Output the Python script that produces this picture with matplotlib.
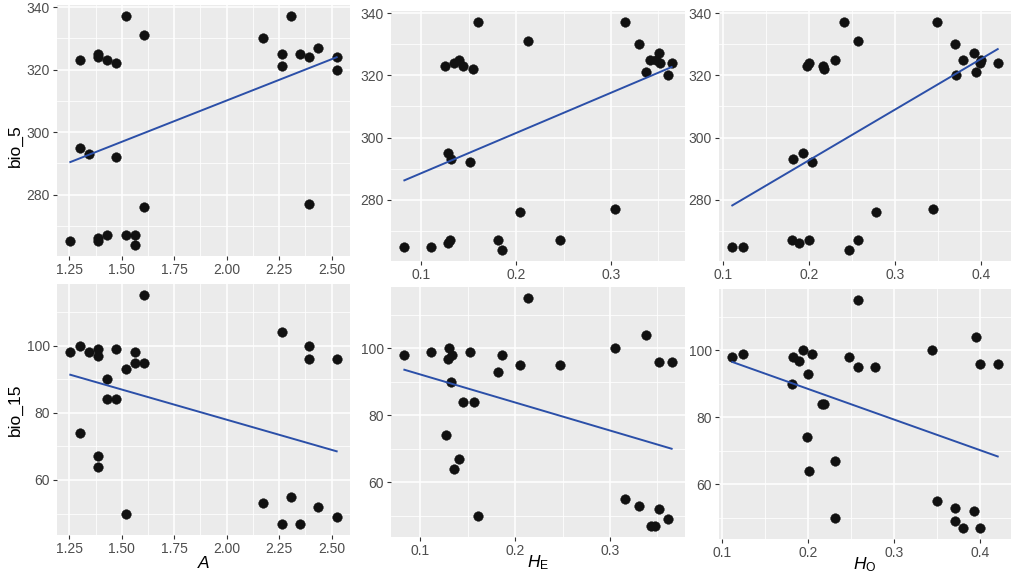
import matplotlib
matplotlib.use("Agg")
import matplotlib.pyplot as plt
import numpy as np
from matplotlib.ticker import FixedLocator, FormatStrFormatter

plt.rcParams["font.family"] = ["Liberation Sans", "DejaVu Sans"]
plt.rcParams["mathtext.fontset"] = "custom"
plt.rcParams["mathtext.rm"] = "Liberation Sans"
plt.rcParams["mathtext.it"] = "Liberation Sans:italic"

# allelic richness, shared by both rows
A = [1.255, 1.301, 1.301, 1.344, 1.387, 1.387, 1.387, 1.387, 1.429, 1.429,
     1.474, 1.474, 1.518, 1.518, 1.561, 1.561, 1.606, 1.606, 2.173, 2.262,
     2.262, 2.304, 2.347, 2.393, 2.393, 2.436, 2.524, 2.524]
bio5_A = [265, 323, 295, 293, 325, 324, 266, 265, 323, 267, 322, 292, 337, 267,
          267, 264, 331, 276, 330, 325, 321, 337, 325, 324, 277, 327, 324, 320]
bio15_A = [98, 100, 74, 98, 99, 97, 67, 64, 90, 84, 99, 84, 93, 50, 98, 95,
           115, 95, 53, 104, 47, 55, 47, 100, 96, 52, 96, 49]

HE_top = [0.082, 0.110, 0.125, 0.128, 0.128, 0.130, 0.131, 0.134, 0.140, 0.144,
          0.151, 0.154, 0.160, 0.181, 0.185, 0.204, 0.212, 0.246, 0.304, 0.315,
          0.330, 0.337, 0.341, 0.347, 0.351, 0.352, 0.360, 0.364]
bio5_HE = [265, 265, 323, 295, 266, 267, 293, 324, 325, 323, 292, 322, 337, 267,
           264, 276, 331, 267, 277, 337, 330, 321, 325, 325, 327, 324, 320, 324]

HE_bottom = [0.083, 0.111, 0.127, 0.129, 0.130, 0.132, 0.133, 0.135, 0.141, 0.145,
             0.152, 0.156, 0.161, 0.182, 0.186, 0.205, 0.213, 0.247, 0.305, 0.316,
             0.331, 0.338, 0.343, 0.347, 0.352, 0.352, 0.361, 0.365]
bio15_HE = [98, 99, 74, 97, 100, 90, 98, 64, 67, 84, 99, 84, 50, 93, 98, 95,
            115, 95, 100, 55, 53, 104, 47, 47, 96, 52, 49, 96]

HO_top = [0.111, 0.124, 0.180, 0.182, 0.189, 0.193, 0.198, 0.200, 0.200, 0.204,
          0.216, 0.218, 0.230, 0.241, 0.247, 0.257, 0.257, 0.278, 0.344, 0.348,
          0.370, 0.371, 0.379, 0.391, 0.394, 0.398, 0.400, 0.419]
bio5_HO = [265, 265, 267, 293, 266, 295, 323, 267, 324, 292, 323, 322, 325, 337,
           264, 267, 331, 276, 277, 337, 330, 320, 325, 327, 321, 324, 325, 324]

HO_bottom = [0.112, 0.125, 0.181, 0.183, 0.190, 0.194, 0.199, 0.200, 0.201, 0.204,
             0.216, 0.218, 0.231, 0.231, 0.248, 0.258, 0.258, 0.278, 0.344, 0.349,
             0.371, 0.371, 0.380, 0.392, 0.395, 0.399, 0.400, 0.420]
bio15_HO = [98, 99, 90, 98, 97, 100, 74, 93, 64, 99, 84, 84, 67, 50, 98, 95,
            115, 95, 100, 55, 53, 49, 47, 52, 104, 96, 47, 96]

W, H = 1021, 582
fig = plt.figure(figsize=(W / 100, H / 100), dpi=100)


def px_axes(left, top, right, bottom):
    return fig.add_axes([left / W, 1 - bottom / H, (right - left) / W, (bottom - top) / H])


def padded(values):
    lo, hi = min(values), max(values)
    pad = 0.05 * (hi - lo)
    return lo - pad, hi + pad


def panel(box, x, y, major_x, minor_x, major_y, minor_y, xfmt):
    ax = px_axes(*box)
    ax.set_facecolor("#EBEBEB")
    for side in ax.spines.values():
        side.set_visible(False)
    ax.set_axisbelow(True)
    ax.xaxis.set_major_locator(FixedLocator(major_x))
    ax.xaxis.set_minor_locator(FixedLocator(minor_x))
    ax.yaxis.set_major_locator(FixedLocator(major_y))
    ax.yaxis.set_minor_locator(FixedLocator(minor_y))
    ax.xaxis.set_major_formatter(FormatStrFormatter(xfmt))
    ax.grid(which="major", color="white", linewidth=1.1)
    ax.grid(which="minor", color="white", linewidth=0.55)
    ax.tick_params(which="major", length=3, width=0.8, color="#333333",
                   labelcolor="#4D4D4D", labelsize=10, pad=2)
    ax.tick_params(which="minor", length=0)

    ax.scatter(x, y, s=48, color="#111111", edgecolors="#111111", linewidths=0.3, zorder=3)
    slope, intercept = np.polyfit(x, y, 1)
    xs = np.array([min(x), max(x)])
    ax.plot(xs, intercept + slope * xs, color="#2B4FA8", linewidth=1.4, zorder=4)

    ax.set_xlim(*padded(x))
    ax.set_ylim(*padded(y))
    return ax


ticks_A = [1.25, 1.50, 1.75, 2.00, 2.25, 2.50]
minor_A = [1.375, 1.625, 1.875, 2.125, 2.375]
ticks_HE = [0.1, 0.2, 0.3]
minor_HE = [0.15, 0.25, 0.35]
ticks_HO = [0.1, 0.2, 0.3, 0.4]
minor_HO = [0.15, 0.25, 0.35]
ticks_bio5 = [280, 300, 320, 340]
minor_bio5 = [270, 290, 310, 330]
ticks_bio15 = [60, 80, 100]
minor_bio15 = [50, 70, 90, 110]

panel((57, 5, 350, 256), A, bio5_A, ticks_A, minor_A, ticks_bio5, minor_bio5, "%.2f")
panel((391, 11, 685, 261), HE_top, bio5_HE, ticks_HE, minor_HE, ticks_bio5, minor_bio5, "%.1f")
panel((719, 11, 1011, 261), HO_top, bio5_HO, ticks_HO, minor_HO, ticks_bio5, minor_bio5, "%.1f")
panel((57, 284, 350, 535), A, bio15_A, ticks_A, minor_A, ticks_bio15, minor_bio15, "%.2f")
panel((391, 287, 685, 537), HE_bottom, bio15_HE, ticks_HE, minor_HE, ticks_bio15, minor_bio15, "%.1f")
panel((719, 289, 1011, 539), HO_bottom, bio15_HO, ticks_HO, minor_HO, ticks_bio15, minor_bio15, "%.1f")

title_size = 12.5
fig.text(15 / W, 1 - 146 / H, "bio_5", rotation=90, ha="center", va="center", fontsize=title_size)
fig.text(15 / W, 1 - 410 / H, "bio_15", rotation=90, ha="center", va="center", fontsize=title_size)
fig.text(204 / W, 1 - 563 / H, r"$A$", ha="center", va="center", fontsize=title_size)
fig.text(538 / W, 1 - 563 / H, r"$H_\mathrm{E}$", ha="center", va="center", fontsize=title_size)
fig.text(865 / W, 1 - 565 / H, r"$H_\mathrm{O}$", ha="center", va="center", fontsize=title_size)

fig.savefig("out.png", dpi=100)
